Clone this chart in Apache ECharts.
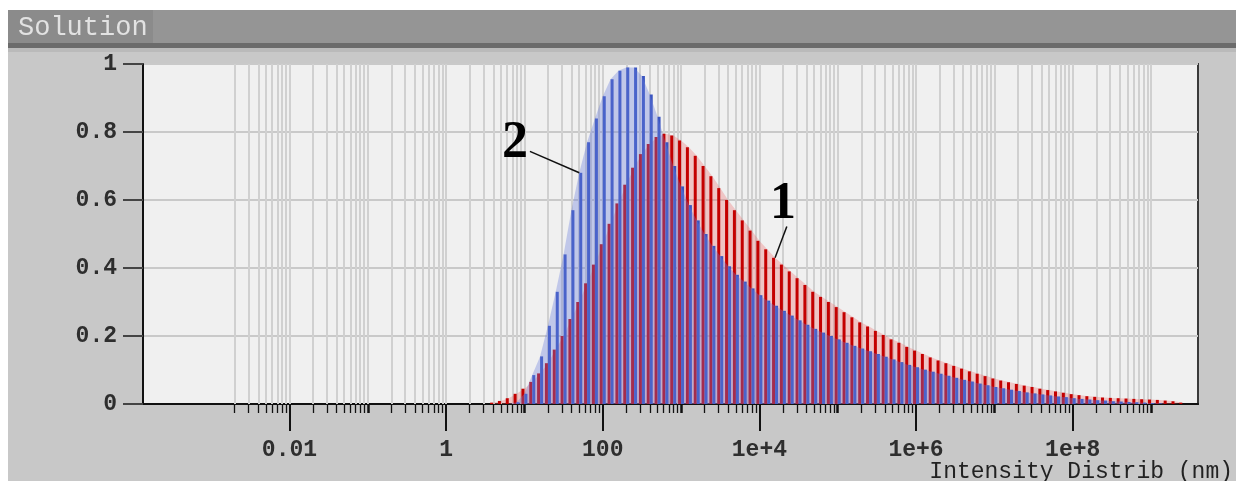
<!DOCTYPE html>
<html>
<head>
<meta charset="utf-8">
<title>Solution – Intensity Distrib</title>
<script src="https://cdn.jsdelivr.net/npm/echarts@6/dist/echarts.min.js"></script>
<style>
  html, body { margin: 0; padding: 0; background: #ffffff; }
  #chart { width: 1236px; height: 481px; }
</style>
</head>
<body>
<div id="chart"></div>
<script>
// Particle size bins, as log10 of the size in nm
const sizeExp = [
  0.6,0.7,0.8,0.9,1.0,1.1,1.2,1.3,1.4,1.5,
  1.6,1.7,1.8,1.9,2.0,2.1,2.2,2.3,2.4,2.5,
  2.6,2.7,2.8,2.9,3.0,3.1,3.2,3.3,3.4,3.5,
  3.6,3.7,3.8,3.9,4.0,4.1,4.2,4.3,4.4,4.5,
  4.6,4.7,4.8,4.9,5.0,5.1,5.2,5.3,5.4,5.5,
  5.6,5.7,5.8,5.9,6.0,6.1,6.2,6.3,6.4,6.5,
  6.6,6.7,6.8,6.9,7.0,7.1,7.2,7.3,7.4,7.5,
  7.6,7.7,7.8,7.9,8.0,8.1,8.2,8.3,8.4,8.5,
  8.6,8.7,8.8,8.9,9.0,9.1,9.2,9.3,9.4
];

// Distribution 1 (red)
const intensity1 = [
  0.004,0.009,0.017,0.03,0.045,0.065,0.09,0.12,0.16,0.2,
  0.25,0.3,0.355,0.41,0.47,0.53,0.59,0.645,0.695,0.735,
  0.765,0.785,0.795,0.79,0.775,0.755,0.73,0.70,0.67,0.635,
  0.60,0.57,0.54,0.51,0.48,0.455,0.43,0.41,0.39,0.37,
  0.35,0.33,0.315,0.30,0.285,0.27,0.255,0.24,0.228,0.215,
  0.203,0.19,0.18,0.168,0.157,0.147,0.137,0.128,0.12,0.112,
  0.104,0.096,0.089,0.082,0.075,0.069,0.064,0.059,0.054,0.05,
  0.045,0.041,0.037,0.033,0.029,0.026,0.023,0.021,0.019,0.018,
  0.017,0.016,0.015,0.014,0.013,0.012,0.01,0.008,0.004
];

// Distribution 2 (blue)
const intensity2 = [
  0,0,0,0.005,0.03,0.085,0.14,0.23,0.33,0.44,
  0.57,0.68,0.77,0.84,0.905,0.955,0.98,0.99,0.99,0.965,
  0.91,0.845,0.77,0.70,0.64,0.585,0.54,0.50,0.465,0.435,
  0.405,0.38,0.36,0.34,0.32,0.304,0.289,0.274,0.26,0.246,
  0.233,0.221,0.21,0.2,0.19,0.18,0.171,0.163,0.155,0.147,
  0.139,0.131,0.123,0.115,0.108,0.101,0.095,0.089,0.083,0.077,
  0.071,0.066,0.06,0.055,0.05,0.046,0.042,0.038,0.034,0.031,
  0.028,0.025,0.022,0.02,0.017,0.015,0.013,0.011,0.01,0.008,
  0.007,0.006,0.005,0.004,0.003,0.002,0,0,0
];

// Labelled x ticks (decade exponents) and their texts
const xTickExps = [-2, 0, 2, 4, 6, 8];
const xTickLabels = ['0.01', '1', '100', '1e+4', '1e+6', '1e+8'];
const xAxisTitle = 'Intensity Distrib (nm)';

const X_MIN = -3.87, X_MAX = 9.6;
const MONO = '"Liberation Mono", "DejaVu Sans Mono", monospace';

// Log grid: decades 1e-3 .. 1e9 with their 2..9 sub-divisions
const decadeExps = [];
const minorExps = [];
for (let d = -3; d <= 8; d++) {
  if (d > -3) decadeExps.push(d);
  for (let k = 2; k <= 9; k++) minorExps.push(d + Math.log10(k));
}
decadeExps.push(9);
const plainDecades = decadeExps.filter(d => xTickExps.indexOf(d) < 0);
const gridExps = minorExps.concat(decadeExps);

const pairs = (ys) => sizeExp.map((x, i) => [x, ys[i]]);

const chart = echarts.init(document.getElementById('chart'), null, { renderer: 'canvas' });

const baseAxis = {
  type: 'value', min: X_MIN, max: X_MAX, position: 'bottom',
  splitLine: { show: false }, axisLabel: { show: false }
};

const labelFont = { fontFamily: MONO, fontSize: 23, fontWeight: 'bold', color: '#2e2e2e' };

const option = {
  backgroundColor: '#c8c8c8',
  animation: false,
  grid: {
    left: 143, right: 38, top: 64, bottom: 77,
    containLabel: false, outerBoundsMode: 'none',
    show: true, backgroundColor: '#f0f0f0',
    borderColor: '#3a3a3a', borderWidth: 2
  },
  xAxis: [
    Object.assign({}, baseAxis, {
      axisLine: { show: true, onZero: false, lineStyle: { color: '#111', width: 2 } },
      axisTick: { show: true, customValues: minorExps, length: 9, lineStyle: { color: '#111', width: 1.3 } }
    }),
    Object.assign({}, baseAxis, {
      axisLine: { show: false, onZero: false },
      axisTick: { show: true, customValues: plainDecades, length: 9, lineStyle: { color: '#111', width: 2.5 } }
    }),
    Object.assign({}, baseAxis, {
      axisLine: { show: false, onZero: false },
      axisTick: { show: true, customValues: xTickExps, length: 27, lineStyle: { color: '#111', width: 2 } },
      axisLabel: Object.assign({
        show: true, customValues: xTickExps, margin: 35,
        formatter: (v) => {
          const i = xTickExps.findIndex(e => Math.abs(e - v) < 1e-6);
          return i >= 0 ? xTickLabels[i] : '';
        }
      }, labelFont)
    })
  ],
  yAxis: {
    type: 'value', min: 0, max: 1, interval: 0.2,
    axisLine: { show: true, onZero: false, lineStyle: { color: '#111', width: 2 } },
    axisTick: { show: true, length: 20, lineStyle: { color: '#444', width: 2 } },
    axisLabel: Object.assign({ margin: 26 }, labelFont),
    splitLine: { show: true, lineStyle: { color: '#c9c9c9', width: 2 } }
  },
  series: [
    {
      name: '1 area', type: 'line', xAxisIndex: 0, data: pairs(intensity1),
      showSymbol: false, silent: true, z: 2,
      lineStyle: { width: 0, opacity: 0 },
      areaStyle: { color: 'rgba(236,105,105,0.45)' },
      markLine: {
        silent: true, z: 1, symbol: 'none', animation: false,
        label: { show: false },
        emphasis: { disabled: true },
        lineStyle: { color: '#d0d0d0', width: 2, type: 'solid' },
        data: gridExps.map(v => [{ coord: [v, 0] }, { coord: [v, 1] }])
      }
    },
    {
      name: '1', type: 'bar', xAxisIndex: 0, data: pairs(intensity1),
      barWidth: 3, barGap: '0%', z: 3, silent: true,
      itemStyle: { color: '#c40000' }
    },
    {
      name: '2', type: 'bar', xAxisIndex: 0, data: pairs(intensity2),
      barWidth: 3, barGap: '0%', z: 3, silent: true,
      itemStyle: { color: '#3a55c0' }
    },
    {
      name: '2 area', type: 'line', xAxisIndex: 0, data: pairs(intensity2),
      showSymbol: false, silent: true, z: 4,
      lineStyle: { width: 0, opacity: 0 },
      areaStyle: { color: 'rgba(105,125,220,0.5)' }
    }
  ],
  graphic: [
    { id: 'topWhite', type: 'rect', left: 0, top: 0, shape: { width: 1236, height: 10 }, style: { fill: '#ffffff' }, z: 10 },
    { id: 'leftWhite', type: 'rect', left: 0, top: 0, shape: { width: 8, height: 481 }, style: { fill: '#ffffff' }, z: 10 },
    { id: 'bar', type: 'rect', left: 8, top: 10, shape: { width: 1228, height: 34 }, style: { fill: '#959595' }, z: 10 },
    { id: 'barBox', type: 'rect', left: 8, top: 10, shape: { width: 145, height: 34 }, style: { fill: '#8b8b8b' }, z: 11 },
    { id: 'barEdge', type: 'rect', left: 8, top: 43, shape: { width: 1228, height: 5 }, style: { fill: '#6b6b6b' }, z: 11 },
    { id: 'barEdge2', type: 'rect', left: 8, top: 48, shape: { width: 1228, height: 4 }, style: { fill: '#bababa' }, z: 11 },
    { id: 'title', type: 'text', left: 18, top: 14, z: 12,
      style: { text: 'Solution', fill: '#e2e2e2', font: '27px ' + MONO } },
    { id: 'xTitle', type: 'text', right: 3, top: 460, z: 12,
      style: { text: xAxisTitle, fill: '#222', font: '23px ' + MONO } }
  ]
};

chart.setOption(option);

// Numbered call-outs pointing at each distribution
const callouts = [
  { text: '2', values: intensity2, bin: 11, textAt: [0.88, 0.767], lineFrom: [1.07, 0.743] },
  { text: '1', values: intensity1, bin: 36, textAt: [4.30, 0.587], lineFrom: [4.35, 0.522] }
];
const toPx = (pt) => chart.convertToPixel({ seriesIndex: 0 }, pt);
const calloutGraphics = [];
callouts.forEach((c, i) => {
  const tip = toPx([sizeExp[c.bin], c.values[c.bin]]);
  const from = toPx(c.lineFrom);
  const t = toPx(c.textAt);
  calloutGraphics.push({
    id: 'cl' + i, type: 'line', z: 20,
    shape: { x1: from[0], y1: from[1], x2: tip[0], y2: tip[1] },
    style: { stroke: '#111', lineWidth: 1.5 }
  });
  calloutGraphics.push({
    id: 'ct' + i, type: 'text', z: 20, x: t[0], y: t[1],
    style: {
      text: c.text, fill: '#000', align: 'center', verticalAlign: 'middle',
      font: 'bold 52px "Liberation Serif", "DejaVu Serif", serif'
    }
  });
});
chart.setOption({ graphic: calloutGraphics });
</script>
</body>
</html>
